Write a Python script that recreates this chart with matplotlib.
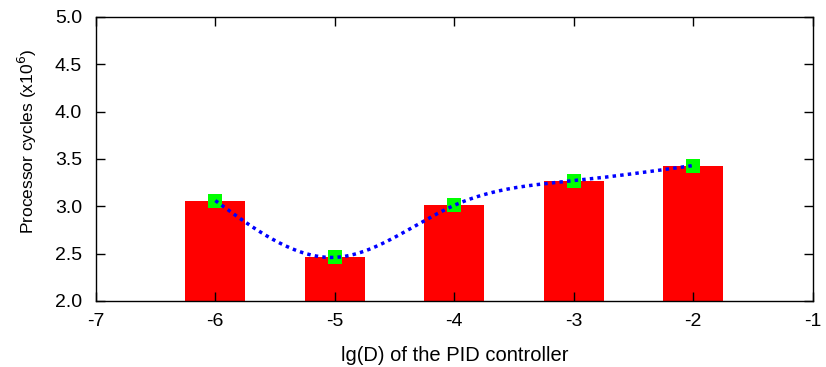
import numpy as np
import matplotlib
matplotlib.use("Agg")
import matplotlib.pyplot as plt

plt.rcParams['font.family'] = ['Liberation Sans', 'DejaVu Sans']

x_vals = [-6, -5, -4, -3, -2]
cycles = [3.06, 2.46, 3.01, 3.27, 3.43]
x_ticks = [-7, -6, -5, -4, -3, -2, -1]
y_ticks = [2.0, 2.5, 3.0, 3.5, 4.0, 4.5, 5.0]


def natural_cubic_spline(x, y, xs):
    x = np.asarray(x, float)
    y = np.asarray(y, float)
    n = len(x)
    h = np.diff(x)
    A = np.zeros((n, n))
    b = np.zeros(n)
    A[0, 0] = 1
    A[-1, -1] = 1
    for i in range(1, n - 1):
        A[i, i - 1] = h[i - 1]
        A[i, i] = 2 * (h[i - 1] + h[i])
        A[i, i + 1] = h[i]
        b[i] = 3 * ((y[i + 1] - y[i]) / h[i] - (y[i] - y[i - 1]) / h[i - 1])
    c = np.linalg.solve(A, b)
    out = np.empty_like(xs)
    for k, xv in enumerate(xs):
        i = min(max(np.searchsorted(x, xv) - 1, 0), n - 2)
        dx = xv - x[i]
        bb = (y[i + 1] - y[i]) / h[i] - h[i] * (2 * c[i] + c[i + 1]) / 3
        d = (c[i + 1] - c[i]) / (3 * h[i])
        out[k] = y[i] + bb * dx + c[i] * dx ** 2 + d * dx ** 3
    return out


fig = plt.figure(figsize=(8.26, 3.67), dpi=100)
ax = fig.add_axes([0.116, 0.180, 0.868, 0.774])

ax.bar(x_vals, [c - 2.0 for c in cycles], bottom=2.0, width=0.5, color='#ff0000', zorder=1)
ax.plot(x_vals, cycles, linestyle='none', marker='s', markersize=10, color='#00ff00',
        markeredgewidth=0, zorder=2)
xs = np.linspace(min(x_vals), max(x_vals), 300)
ax.plot(xs, natural_cubic_spline(x_vals, cycles, xs), color='#0000ff', linestyle=(0, (1, 1.2)),
        linewidth=2.5, zorder=3)

ax.set_xlim(-7, -1)
ax.set_ylim(2.0, 5.0)
ax.set_xticks(x_ticks)
ax.set_xticklabels([str(t) for t in x_ticks])
ax.set_yticks(y_ticks)
ax.set_yticklabels([f"{t:.1f}" for t in y_ticks])
ax.tick_params(direction='in', top=True, right=True, length=6.5, width=1, labelsize=14)
ax.tick_params(axis='y', pad=10)
ax.tick_params(axis='x', pad=8.5)
for s in ax.spines.values():
    s.set_linewidth(1)
ax.set_xlabel('lg(D) of the PID controller', fontsize=14.5)
ax.set_ylabel('Processor cycles (x10$^6$)', fontsize=12.5)
ax.xaxis.set_label_coords(0.5, -0.211)
ax.xaxis.label.set_verticalalignment('baseline')
ax.yaxis.set_label_coords(-0.096, 0.56)
ax.yaxis.label.set_verticalalignment('center')

fig.savefig('out.png', dpi=100)
